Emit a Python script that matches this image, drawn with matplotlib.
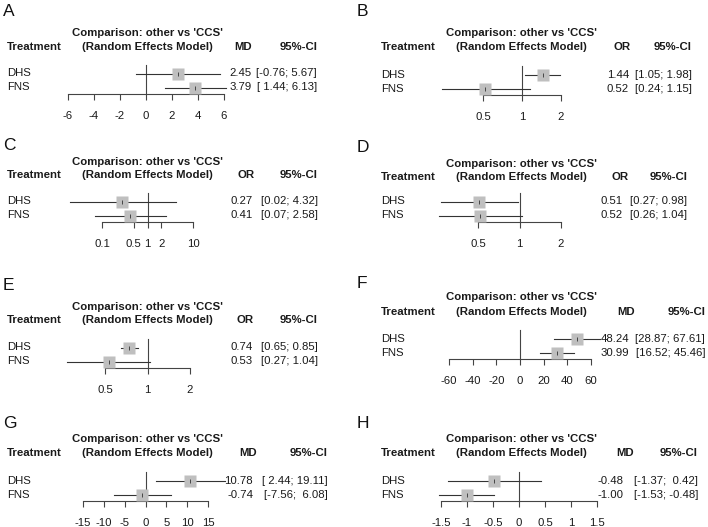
import numpy as np
import matplotlib
matplotlib.use("Agg")
import matplotlib.pyplot as plt
from matplotlib.ticker import FixedLocator, FixedFormatter

plt.rcParams['font.family'] = ['Liberation Sans', 'DejaVu Sans']

# data for the eight forest plots
panels = ['A', 'B', 'C', 'D', 'E', 'F', 'G', 'H']
measure = ['MD', 'OR', 'OR', 'OR', 'OR', 'MD', 'MD', 'MD']
treatments = ['DHS', 'FNS']

dhs_est = [2.45, 1.44, 0.27, 0.51, 0.74, 48.24, 10.78, -0.48]
dhs_lo = [-0.76, 1.05, 0.02, 0.27, 0.65, 28.87, 2.44, -1.37]
dhs_hi = [5.67, 1.98, 4.32, 0.98, 0.85, 67.61, 19.11, 0.42]

fns_est = [3.79, 0.52, 0.41, 0.52, 0.53, 30.99, -0.74, -1.00]
fns_lo = [1.44, 0.24, 0.07, 0.26, 0.27, 16.52, -7.56, -1.53]
fns_hi = [6.13, 1.15, 2.58, 1.04, 1.04, 45.46, 6.08, -0.48]

ticks = [
    [-6, -4, -2, 0, 2, 4, 6],
    [0.5, 1, 2],
    [0.1, 0.5, 1, 2, 10],
    [0.5, 1, 2],
    [0.5, 1, 2],
    [-60, -40, -20, 0, 20, 40, 60],
    [-15, -10, -5, 0, 5, 10, 15],
    [-1.5, -1, -0.5, 0, 0.5, 1, 1.5],
]
tick_labels = [
    ['-6', '-4', '-2', '0', '2', '4', '6'],
    ['0.5', '1', '2'],
    ['0.1', '0.5', '1', '2', '10'],
    ['0.5', '1', '2'],
    ['0.5', '1', '2'],
    ['-60', '-40', '-20', '0', '20', '40', '60'],
    ['-15', '-10', '-5', '0', '5', '10', '15'],
    ['-1.5', '-1', '-0.5', '0', '0.5', '1', '1.5'],
]

# layout in pixels: label_y, title_y1, title_y2, axis_y,
# x_treat, x_title, x_stat, x_est_right, x_ci_right, ax_left, ax_right
layout = [
    (11, 33, 47, 94, 7, 147, 243, 252, 317, 68, 224),
    (11, 33, 47, 95, 381, 521, 622, 629, 692, 483, 561),
    (145, 162, 175, 222, 7, 147, 246, 253, 318, 102, 193),
    (147, 164, 177, 222, 381, 521, 620, 623, 687, 478, 561),
    (285, 307, 320, 368, 7, 147, 245, 253, 318, 105, 190),
    (283, 297, 312, 359, 381, 521, 626, 629, 705, 449, 591),
    (423, 439, 453, 501, 7, 147, 248, 253, 328, 83, 208),
    (423, 439, 453, 501, 381, 521, 625, 624, 698, 441, 597),
]
label_x = [3, 357]

W, H = 708, 527
fig = plt.figure(figsize=(W / 100, H / 100), dpi=100)


def fx(x):
    return x / W


def fy(y):
    return 1 - y / H


def txt(x, y, s, **kw):
    kw.setdefault('fontsize', 8.2)
    kw.setdefault('va', 'center')
    kw.setdefault('color', '#1a1a1a')
    fig.text(fx(x), fy(y), s, **kw)


def fmt_col(vals):
    s = ['%.2f' % v for v in vals]
    n = max(len(t) for t in s)
    return [t.rjust(n) for t in s]


AX_H = 29
ROW_Y = [20.5, 6.5]  # DHS, FNS in px above the axis line

for i, p in enumerate(panels):
    (ly, t1, t2, axy, xt, xtitle, xstat, xest, xci, axl, axr) = layout[i]
    fig.text(fx(label_x[i % 2]), fy(ly), p, fontsize=12.5, va='center', color='#111')

    txt(xtitle, t1, "Comparison: other vs 'CCS'", ha='center', fontweight='bold')
    txt(xtitle, t2, "(Random Effects Model)", ha='center', fontweight='bold')
    txt(xt, t2, 'Treatment', ha='left', fontweight='bold')
    txt(xstat, t2, measure[i], ha='center', fontweight='bold')
    txt(xci, t2, '95%-CI', ha='right', fontweight='bold')

    ests = fmt_col([dhs_est[i], fns_est[i]])
    los = fmt_col([dhs_lo[i], fns_lo[i]])
    his = fmt_col([dhs_hi[i], fns_hi[i]])
    for j, tr in enumerate(treatments):
        ry = axy - ROW_Y[j]
        txt(xt, ry, tr, ha='left')
        txt(xest, ry, ests[j], ha='right')
        txt(xci, ry, '[%s; %s]' % (los[j], his[j]), ha='right')

    ax = fig.add_axes([fx(axl), fy(axy), (axr - axl) / W, AX_H / H])
    ax.patch.set_alpha(0)
    is_or = measure[i] == 'OR'
    if is_or:
        ax.set_xscale('log')
    ax.set_xlim(ticks[i][0], ticks[i][-1])
    ax.set_ylim(0, AX_H)
    ax.xaxis.set_major_locator(FixedLocator(ticks[i]))
    ax.xaxis.set_major_formatter(FixedFormatter(tick_labels[i]))
    ax.xaxis.set_minor_locator(FixedLocator([]))
    ax.set_yticks([])
    for s in ['top', 'right', 'left']:
        ax.spines[s].set_visible(False)
    ax.spines['bottom'].set_color('#444444')
    ax.spines['bottom'].set_linewidth(0.8)
    ax.tick_params(axis='x', direction='out', length=4.3, width=0.8, color='#444444',
                   pad=8, labelsize=8.2, labelcolor='#1a1a1a')

    ref = 1 if is_or else 0
    ax.axvline(ref, 0, 1, color='#444444', lw=0.8, clip_on=False, zorder=1)

    est = [dhs_est[i], fns_est[i]]
    lo = [dhs_lo[i], fns_lo[i]]
    hi = [dhs_hi[i], fns_hi[i]]
    for j in range(2):
        ax.plot([lo[j], hi[j]], [ROW_Y[j], ROW_Y[j]], color='#333333', lw=0.8,
                clip_on=False, zorder=2)
        ax.plot([est[j]], [ROW_Y[j]], marker='s', ms=8, color='#bfbfbf', mec='none',
                clip_on=False, zorder=3)
        ax.plot([est[j]], [ROW_Y[j]], marker='|', ms=3, mew=0.6, color='#333333',
                clip_on=False, zorder=4)

fig.savefig('out.png', dpi=100, facecolor='white')
